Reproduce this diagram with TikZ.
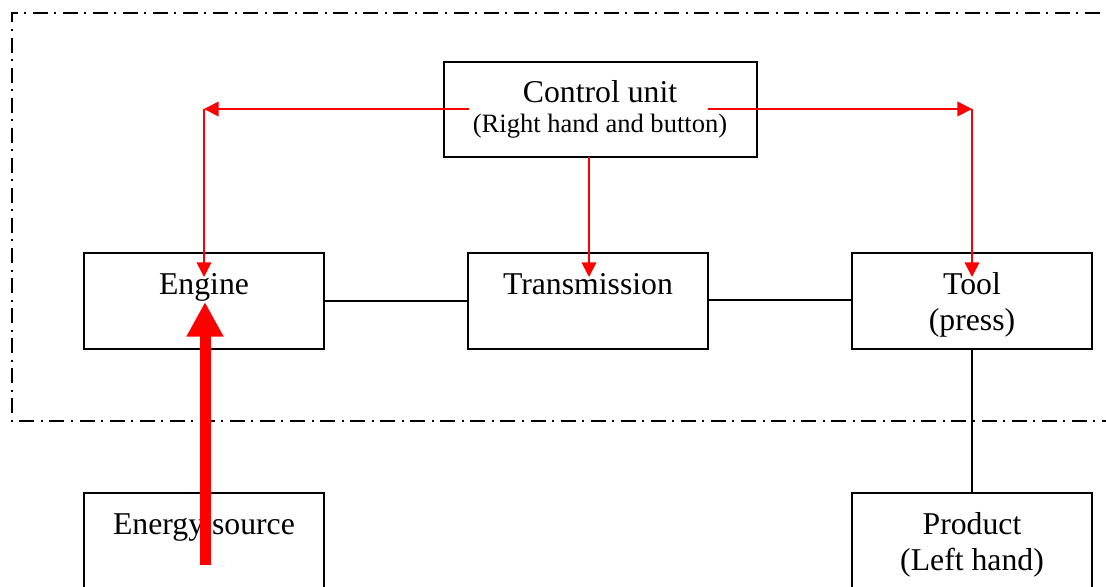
\documentclass[tikz,border=0pt]{standalone}
\usepackage{fontspec}
\setmainfont{Liberation Serif}
\usetikzlibrary{arrows.meta}
\begin{document}
\begin{tikzpicture}[x=0.75pt,y=-0.75pt,
  box/.style={draw, line width=1.1pt, minimum width=180pt, minimum height=72pt, inner sep=0pt},
  txt/.style={inner sep=0pt, anchor=base, font=\fontsize{23.8}{28}\selectfont},
  smalltxt/.style={inner sep=0pt, anchor=base, font=\fontsize{19.9}{24}\selectfont},
  link/.style={line width=1.1pt},
  ctrl/.style={draw=red, line width=1.3pt, -{Triangle[length=11pt,width=11pt]}},
  ctrlline/.style={draw=red, line width=1.3pt},
  energy/.style={draw=red, line width=8.25pt, -{Triangle[length=26pt,width=26pt]}},
  border/.style={line width=1.3pt, dash pattern=on 11.25pt off 4.9pt on 1.5pt off 4.9pt}]
\useasboundingbox (0,0) rectangle (1106,586);
\clip (0,0) rectangle (1106,586);
\fill[white] (0,0) rectangle (1106,586);
% system border
\draw[border] (1130,13) -- (12,13) -- (12,421) -- (1130,421);
% boxes
\node[box, minimum width=234.75pt, minimum height=71.25pt] (cu) at (600.5,109.5) {};
\node[box] (engine) at (204,301) {};
\node[box] (trans) at (588,301) {};
\node[box] (tool) at (972,301) {};
\node[box] (es) at (204,541) {};
\node[box] (prod) at (972,541) {};
% texts
\node[txt] (cu-t1) at (600,102) {Control unit};
\node[smalltxt] (cu-t2) at (600,132) {(Right hand and button)};
\node[txt] (engine-t) at (204,294) {Engine};
\node[txt] (trans-t) at (588,294) {Transmission};
\node[txt] (tool-t1) at (972,294) {Tool};
\node[txt] (tool-t2) at (972,330) {(press)};
\node[txt] (es-t) at (204,534) {Energy source};
\node[txt] (prod-t1) at (972,534) {Product};
\node[txt] (prod-t2) at (972,570) {(Left hand)};
% black connectors
\draw[link] (engine.east |- 0,301) -- (trans.west |- 0,301);
\draw[link] (trans.east |- 0,300) -- (tool.west |- 0,300);
\draw[link] (tool.south) -- (prod.north);
% control arrows
\coordinate (cul) at (469,109);
\coordinate (cur) at (708,109);
\coordinate (cl) at (204,109);
\coordinate (cr) at (972,109);
\coordinate (ein) at (204,277);
\coordinate (tin) at (972,277);
\coordinate (cus) at (589,157);
\coordinate (trin) at (589,277);
\draw[ctrl] (cul) -- (cl);
\draw[ctrl] (cl) -- (ein);
\draw[ctrl] (cur) -- (cr);
\draw[ctrl] (cr) -- (tin);
\draw[ctrl] (cus) -- (trin);
% energy arrow
\coordinate (esin) at (205,565);
\coordinate (eup) at (205,302);
\draw[energy] (esin) -- (eup);
\end{tikzpicture}
\end{document}
